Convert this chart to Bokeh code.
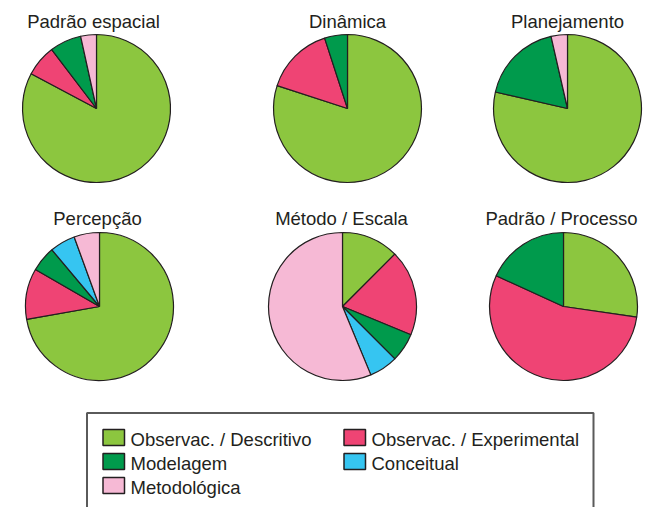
import numpy as np
from bokeh.plotting import figure
from bokeh.models import Range1d
from bokeh.core.properties import value
from bokeh.embed import file_html
from bokeh.resources import INLINE

# ---- data ----
categories = ["Observac. / Descritivo", "Observac. / Experimental", "Modelagem",
              "Conceitual", "Metodológica"]
colors = ["#8CC63F", "#EF4474", "#009A4C", "#36C5F1", "#F6B9D5"]

titles = ["Padrão espacial", "Dinâmica", "Planejamento",
          "Percepção", "Método / Escala", "Padrão / Processo"]
padrao_espacial = [24, 2, 2, 0, 1]
dinamica = [16, 3, 1, 0, 0]
planejamento = [22, 0, 5, 0, 1]
percepcao = [13, 2, 1, 1, 1]
metodo_escala = [2, 3, 1, 1, 9]
padrao_processo = [3, 6, 2, 0, 0]
series = [padrao_espacial, dinamica, planejamento, percepcao, metodo_escala, padrao_processo]

# ---- layout (pixel coordinates of the page) ----
W, H = 650, 507
centers_px = [(96, 108), (347, 108), (567, 108), (99, 306), (342, 306), (563, 306)]
title_y_px = [21, 21, 21, 218, 218, 218]
title_x_px = [93, 347, 567, 97, 341, 561]
R = 74

def Y(ypx):
    return H - ypx

p = figure(width=W, height=H, output_backend="svg", toolbar_location=None,
           x_range=Range1d(0, W), y_range=Range1d(0, H),
           min_border=0)
p.axis.visible = False
p.grid.visible = False
p.outline_line_color = None
p.background_fill_color = "white"

edge = "#231F20"
for (cx, cy), vals, t, tx, ty in zip(centers_px, series, titles, title_x_px, title_y_px):
    v = np.array(vals, dtype=float)
    frac = v / v.sum()
    cum = np.concatenate([[0], np.cumsum(frac)])
    starts = np.pi / 2 - cum[:-1] * 2 * np.pi
    ends = np.pi / 2 - cum[1:] * 2 * np.pi
    for s, e, c, f in zip(starts, ends, colors, frac):
        if f <= 0:
            continue
        p.wedge(x=cx, y=Y(cy), radius=R, start_angle=s, end_angle=e,
                direction="clock", fill_color=c, line_color=edge, line_width=1.2)
    p.text(x=[tx], y=[Y(ty)], text=[t], text_align="center", text_baseline="alphabetic",
           text_font=value("Liberation Sans"), text_font_size="18.5px", text_color=edge)

# ---- legend ----
p.quad(left=86.5, right=593, top=Y(412.5), bottom=Y(520), fill_color=None,
       line_color="#5A5A5A", line_width=2)
leg_pos = [(102.5, 429), (343.5, 429), (102.5, 453), (343.5, 453), (102.5, 477)]
for (lx, ly), lab, c in zip(leg_pos, categories, colors):
    p.quad(left=lx, right=lx + 21.5, top=Y(ly), bottom=Y(ly + 16), fill_color=c,
           line_color=edge, line_width=1.5)
    p.text(x=[lx + 27.5], y=[Y(ly + 10)], text=[lab], text_align="left",
           text_baseline="alphabetic", text_font=value("Liberation Sans"),
           text_font_size="18.5px", text_color=edge)

open("out.html", "w").write(file_html(p, INLINE))
